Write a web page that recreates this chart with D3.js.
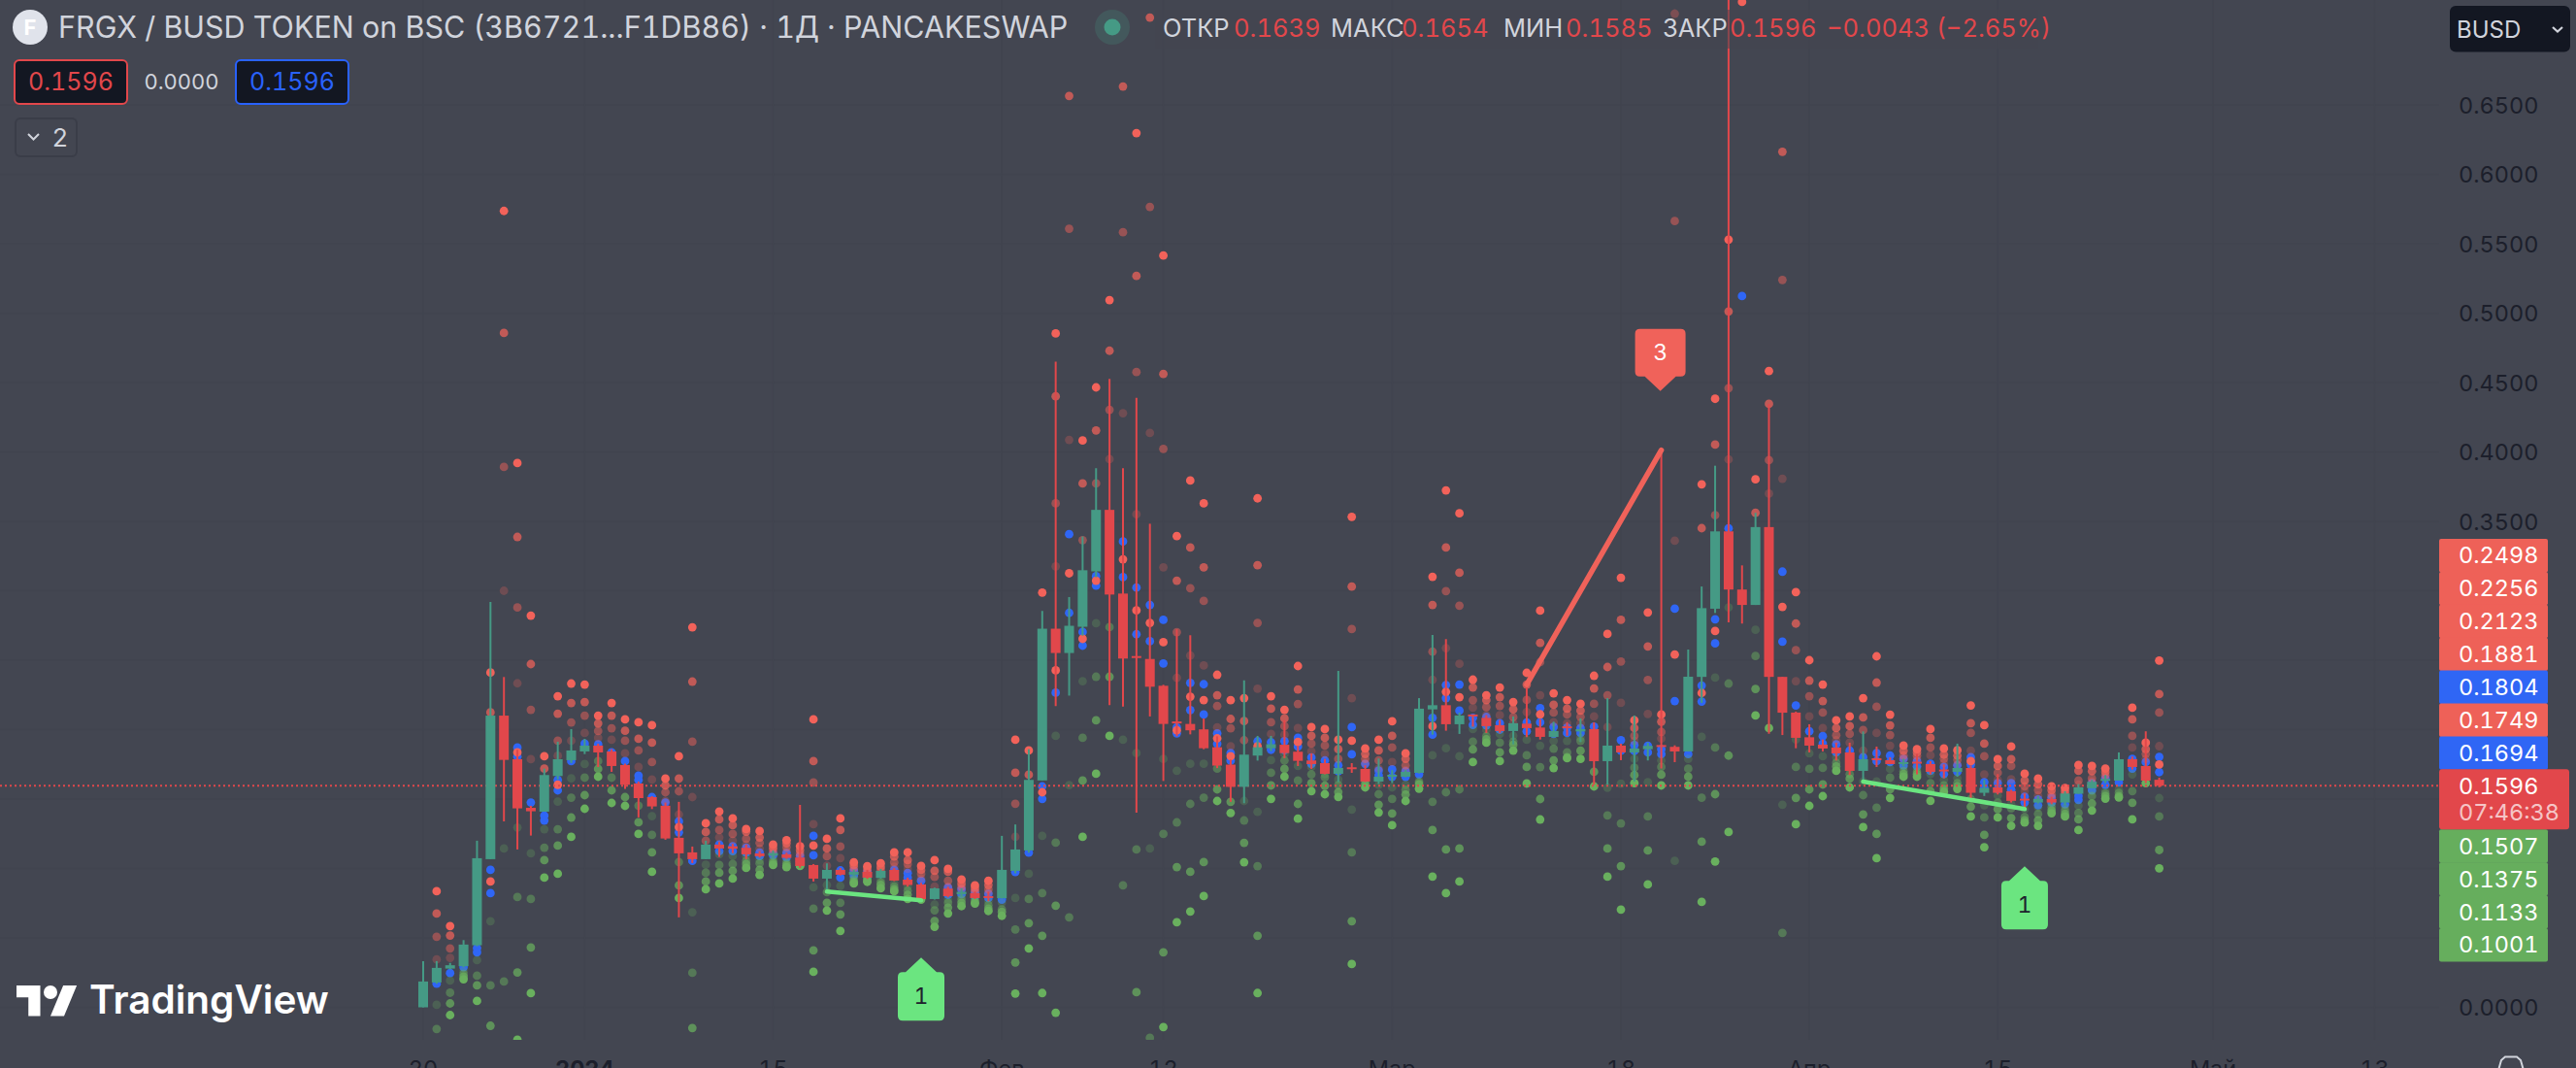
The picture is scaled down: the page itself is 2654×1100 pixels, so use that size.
<!DOCTYPE html>
<html><head><meta charset="utf-8">
<script src="https://d3js.org/d3.v7.min.js"></script>
<style>html,body{margin:0;padding:0;background:#434651;overflow:hidden}svg{display:block}text{font-family:Inter,"Noto Sans",sans-serif;font-variant-numeric:tabular-nums}</style>
</head><body><svg id="c" width="2654" height="1100"></svg>
<script>
// [open, high, low, close] per daily bar
const ohlc=[[.0000,.0333,.0000,.0186],[.0179,.0333,.0170,.0284],[.0279,.0320,.0272,.0303],[.0296,.0484,.0290,.0452],[.0447,.1200,.0440,.1074],[.1067,.2919,.1067,.2101],[.2101,.2379,.1339,.1782],[.1787,.1855,.1137,.1433],[.1437,.1451,.1237,.1412],[.1409,.1719,.1409,.1673],
[.1666,.1913,.1642,.1787],[.1780,.2004,.1760,.1850],[.1843,.1934,.1824,.1885],[.1885,.1899,.1731,.1836],[.1843,.1859,.1696,.1738],[.1745,.1755,.1573,.1603],[.1612,.1626,.1368,.1507],[.1514,.1521,.1428,.1447],[.1452,.1475,.1207,.1216],[.1221,.1480,.0648,.1109],
[.1116,.1158,.1039,.1067],[.1067,.1200,.1067,.1172],[.1172,.1191,.1083,.1144],[.1160,.1177,.1111,.1142],[.1149,.1172,.1067,.1102],[.1109,.1125,.1079,.1088],[.1093,.1130,.1074,.1111],[.1102,.1114,.1069,.1076],[.1079,.1458,.1004,.1018],[.1025,.1032,.0906,.0927],
[.0927,.1037,.0834,.0990],[.0990,.1004,.0950,.0955],[.0955,.0990,.0944,.0976],[.0976,.0990,.0925,.0934],[.0932,.0997,.0927,.0983],[.0990,.1004,.0909,.0913],[.0920,.0934,.0869,.0881],[.0885,.0897,.0771,.0780],[.0780,.0862,.0776,.0857],[.0855,.0869,.0792,.0801],
[.0815,.0857,.0799,.0832],[.0822,.0834,.0780,.0787],[.0801,.0834,.0764,.0787],[.0785,.1235,.0785,.0990],[.0983,.1317,.0965,.1137],[.1130,.1859,.1114,.1638],[.1634,.2855,.1634,.2727],[.2727,.4651,.2169,.2552],[.2552,.2955,.2245,.2748],[.2741,.3391,.2677,.3148],
[.3140,.3883,.3098,.3583],[.3583,.4526,.2177,.2973],[.2980,.3883,.2166,.2512],[.2530,.4390,.1402,.2516],[.2509,.3483,.2095,.2309],[.2316,.2323,.1630,.2041],[.2059,.2723,.1952,.2045],[.2041,.2680,.1966,.1995],[.2002,.2080,.1859,.1866],[.1873,.1952,.1723,.1741],
[.1748,.1784,.1480,.1588],[.1588,.2355,.1470,.1820],[.1813,.1955,.1777,.1873],[.1866,.1955,.1845,.1895],[.1891,.2070,.1795,.1831],[.1841,.1883,.1738,.1775],[.1778,.1829,.1717,.1752],[.1759,.1789,.1678,.1682],[.1682,.2423,.1622,.1724],[.1729,.1759,.1689,.1719],
[.1717,.1743,.1622,.1626],[.1626,.1792,.1608,.1661],[.1661,.1708,.1615,.1675],[.1661,.1708,.1657,.1696],[.1689,.2227,.1685,.2151],[.2146,.2682,.1964,.2176],[.2176,.2652,.1992,.2039],[.2039,.2123,.1969,.2102],[.2109,.2109,.2022,.2099],[.2085,.2104,.1976,.2025],
[.2032,.2069,.1976,.1990],[.1990,.2095,.1894,.2046],[.2043,.2325,.1946,.2011],[.2015,.2074,.1929,.1948],[.1948,.2057,.1946,.1990],[.2024,.2054,.1956,.2012],[.1987,.2081,.1910,.2004],[.2004,.2053,.1603,.1773],[.1773,.2227,.1603,.1885],[.1885,.1899,.1780,.1836],
[.1836,.2102,.1626,.1864],[.1859,.1906,.1778,.1883],[.1889,.4013,.1720,.1880],[.1876,.1887,.1766,.1843],[.1843,.2577,.1843,.2381],[.2380,.3031,.2193,.2875],[.2871,.3901,.2840,.3428],[.3428,.7700,.2773,.3009],[.3009,.3183,.2764,.2898],[.2898,.3562,.2898,.3459],
[.3459,.4347,.1970,.2380],[.2380,.2380,.1961,.2122],[.2123,.2130,.1866,.1941],[.1945,.2039,.1836,.1885],[.1892,.1929,.1843,.1864],[.1871,.1906,.1778,.1829],[.1836,.1906,.1673,.1703],[.1703,.1987,.1626,.1787],[.1794,.1878,.1731,.1785],[.1780,.1801,.1752,.1752],
[.1752,.1790,.1738,.1766],[.1769,.1825,.1678,.1755],[.1752,.1773,.1678,.1696],[.1713,.1750,.1650,.1701],[.1696,.1899,.1661,.1724],[.1724,.1743,.1503,.1545],[.1545,.1638,.1522,.1580],[.1584,.1680,.1533,.1545],[.1557,.1568,.1475,.1487],[.1503,.1540,.1428,.1491],
[.1475,.1522,.1468,.1501],[.1501,.1517,.1463,.1475],[.1475,.1557,.1452,.1540],[.1538,.1608,.1538,.1584],[.1578,.1638,.1578,.1624],[.1631,.1673,.1615,.1645],[.1633,.1836,.1633,.1787],[.1787,.1806,.1713,.1731],[.1738,.1988,.1615,.1633],[.1639,.1654,.1585,.1596]];
const _=null;
// resistance levels r4,r3,r2,r1 and the central pivot, per bar
const redLevels=[[_,_,_,_,_],[.0836,.0675,.0508,.0345,_],[.0585,.0517,.0424,.0356,_],[_,_,_,_,_],[_,_,_,_,_],[.2411,.2125,_,_,.0906],[.5736,.4857,.3892,.3000,_],[.3920,.3388,.2880,.2334,.1836],[.2821,.2472,.2143,.1787,_],[.1808,.1719,_,_,_],
[.2241,.2115,.1920,.1812,.1603],[.2332,.2192,.2052,.1920,_],[.2325,.2199,.2101,.1976,_],[.2101,.2045,.1990,.1941,_],[.2192,.2101,.2010,.1927,_],[.2074,.1992,.1920,.1829,_],[.2053,.1934,.1850,.1731,_],[.2032,.1906,.1766,.1640,_],[.1647,.1598,.1549,.1486,_],[.1808,.1647,.1556,.1389,.1298],
[.2737,.2346,.1913,.1514,_],[.1326,.1263,.1200,_,_],[.1410,.1354,.1277,.1223,_],[.1361,.1312,.1249,.1200,_],[.1284,.1265,.1214,.1172,_],[.1270,.1223,.1184,.1142,_],[.1172,.1149,.1130,.1111,_],[.1204,.1181,.1153,.1125,_],[.1160,.1132,.1109,.1090,_],[.2074,.1773,.1619,.1319,.1165],
[.1214,.1144,.1088,.1020,_],[.1361,.1277,.1158,.1074,_],[.1044,.1025,.1006,.0990,_],[.1016,.0997,.0974,.0962,_],[.1037,.1013,.0997,.0985,_],[.1116,.1086,.1044,.1013,_],[.1116,.1060,.1032,.0997,_],[.1018,.0990,.0962,.0927,_],[.1060,.0983,.0939,.0869,_],[.0997,.0976,.0911,.0869,_],
[.0920,.0892,.0869,.0850,_],[.0878,.0857,.0841,.0827,_],[.0911,.0881,.0850,.0827,_],[_,_,_,_,_],[.1927,.1689,.1466,.1228,_],[.1850,.1675,_,_,_],[.2987,_,_,_,.1549],[.4854,.4401,.3630,.3176,.2427],[_,.6564,.5608,.4087,.3126],[.4083,.3773,.3365,_,.2654],
[.4465,.4155,.3773,_,.3073],[.5094,.4729,.4304,.3948,_],[_,.6632,.5583,.4279,.3227],[.6297,.5268,.4576,.3551,.2859],[_,.7129,.5765,.4137,.2769],[.5415,.4562,.4022,.3169,.2630],[.3394,.3073,.2702,.2373,.1995],[.3794,.3312,.3019,.2534,.2237],[.3630,.3169,.2927,.2462,.2213],[.2395,.2248,.2170,.2016,.1937],
[.2212,.2077,.2009,.1880,.1809],[.2227,.2062,.1923,_,_],[.3666,.3184,.2769,.2295,.1880],[.2241,.2151,.2053,.1969,_],[.2143,.2081,.2025,.1964,_],[.2458,.2290,.2185,.2011,.1911],[.2018,.1955,.1899,.1843,_],[.2004,.1941,.1885,.1824,_],[.1927,.1859,.1789,_,_],[.3533,.3030,.2724,.2226,.1920],
[.1864,.1825,.1790,.1760,_],[.1927,.1850,.1778,.1720,_],[.2060,.1955,.1871,.1766,_],[.1829,.1790,.1743,.1708,_],[_,_,_,_,_],[.3101,.2898,.2562,.2359,.2025],[.3723,.3312,.2998,.2587,.2272],[.3558,.3130,.2893,.2474,.2234],[.2360,.2304,.2213,.2158,_],[.2248,.2213,.2162,.2104,_],
[.2304,.2234,.2171,.2104,_],[.2199,.2146,.2090,.2046,_],[.2409,.2325,.2214,.2127,_],[.2857,.2625,.2486,.2248,.2110],[.2262,.2179,.2123,.2053,_],[.2213,.2151,.2109,.2046,_],[.2186,.2137,.2092,.2046,_],[.2388,.2297,.2186,.2095,_],[.2689,.2451,.2248,.2018,_],[.3094,.2791,.2491,.2193,_],
[.2067,.2011,.1955,.1919,_],[.2844,.2599,.2358,.2113,_],[.2109,.2057,.1983,.1936,_],[_,.7157,.5663,.3361,.2541],[_,_,_,_,_],[.3767,.3451,_,_,.2264],[.4383,.4053,.3544,_,.2710],[.5529,.5012,.4459,.3946,_],[.7242,_,_,_,_],[.3803,.3562,_,_,_],
[.4583,.4347,.3941,.3700,_],[_,.6162,.5239,.3807,.2884],[.2991,.2764,.2572,.2349,_],[.2500,.2353,.2241,.2095,_],[.2325,.2206,.2123,.2011,_],[.2067,.2011,.1960,.1923,_],[.2095,.2025,.1969,.1906,_],[.2227,.2088,.1997,.1848,_],[.2528,.2339,.2165,.1976,_],[.2108,.2031,.1961,.1884,_],
[.1885,.1848,.1813,.1789,_],[.1859,.1836,.1813,.1790,_],[.2004,.1941,.1871,.1815,_],[.1864,.1820,.1790,.1759,_],[.1852,.1813,.1783,.1750,_],[.2174,.2046,.1976,.1848,.1773],[.2032,.1899,.1808,.1678,_],[.1787,.1738,.1689,.1638,_],[.1878,.1787,.1738,.1643,_],[.1682,.1633,.1592,.1557,_],
[.1647,.1606,.1564,.1526,_],[.1592,.1564,.1533,.1515,_],[.1580,.1557,.1540,.1522,_],[.1745,.1703,.1633,.1603,_],[.1738,.1701,.1650,.1626,_],[.1720,.1696,.1673,.1661,_],[_,_,_,_,_],[.2158,.2074,.1955,.1871,_],[.1906,.1859,.1825,.1790,_],[.2498,.2256,.2123,.1881,.1749]];
// the two blue levels around the pivot, per bar
const blueLevels=[[_,_],[_,.0170],[_,.0247],[_,.0290],[.0426,.0396],[.0990,.0822],[_,_],[.1871,.1806],[.1475,_],[.1381,.1346],
[.1638,.1563],[_,.1773],[.1899,_],[.1894,_],[.1836,_],[.1773,_],[.1668,.1638],[.1514,_],[.1475,_],[.1340,.1260],
[_,.1055],[_,_],[.1172,.1125],[.1160,.1125],[.1149,.1114],[.1114,.1090],[.1105,.1095],[.1111,.1079],[.1090,.1050],[.1235,.1095],
[_,_],[.0986,.0934],[.0985,.0950],[.0976,.0940],[_,_],[.0990,_],[.0967,.0934],[.0911,_],[_,_],[.0862,.0810],
[.0850,.0815],[.0827,.0799],[.0818,.0787],[_,.0776],[_,.0974],[_,.1114],[.1591,.1501],[.2590,.2266],[.3408,.2841],[.2703,.2605],
[.3105,.3037],[_,_],[.3355,.3098],[.3023,.2687],[.2898,.2637],[.2791,.2477],[.2016,.1973],[.2337,.2141],[.2327,.2109],[.1973,.1898],
[.1831,.1777],[_,_],[.1916,.1850],[.1909,.1855],[.1917,.1852],[.1941,.1878],[.1800,.1752],[.1778,.1720],[.1743,.1700],[.2018,.1822],
[.1753,.1650],[.1705,.1670],[.1714,.1660],[.1700,.1660],[_,.1678],[.2085,.1964],[.2321,.2227],[.2325,.2137],[.2085,.2034],[.2091,.2030],
[.2046,.2000],[_,_],[.2052,.1988],[.2155,.2053],[.2020,.1970],[.2015,.1976],[.2011,.1976],[.2022,_],[_,_],[.1924,.1848],
[.1889,.1847],[.1883,.1836],[.1859,.1824],[.2871,.2206],[_,.1824],[.2318,.2202],[.2795,.2621],[.3450,_],[.5123,_],[_,_],
[_,_],[.3138,.2634],[.2174,_],[.1988,_],[.1953,.1900],[.1894,.1836],[.1848,_],[.1801,_],[.1831,.1773],[.1813,.1766],
[.1789,.1742],[.1773,.1736],[.1755,.1703],[.1731,.1680],[.1743,.1696],[.1801,.1748],[.1622,.1580],[.1615,.1573],[.1615,.1568],[.1517,.1475],
[.1498,.1456],[.1510,.1475],[.1510,.1463],[.1522,.1494],[.1615,.1564],[.1650,.1603],[_,.1620],[.1790,.1720],[.1766,_],[.1804,.1694]];
// support levels s1,s2,s3,s4, per bar
const greenLevels=[[_,_,_,_],[.0018,-.0156,_,_],[.0193,.0105,.0028,-.0056],[.0263,.0240,.0221,.0202],[.0340,.0228,.0158,.0046],[.0620,.0158,-.0133,_],[.1144,.0186,_,_],[.1295,.0794,.0251,-.0233],[.1109,.0780,.0431,.0102],[.1283,.1150,.1060,.0934],
[.1482,.1283,.1165,.0962],[.1649,.1510,.1367,.1228],[.1752,.1654,.1528,.1430],[_,.1773,.1717,.1661],[_,.1654,.1563,.1472],[_,_,.1514,.1451],[_,.1452,.1333,.1249],[.1377,.1242,.1116,.0976],[_,_,_,_],[_,.1046,.0878,.0787],
[.0685,.0249,-.0149,_],[.1027,.0969,.0906,.0850],[.1102,.1025,.0969,.0892],[.1090,.1032,.0983,.0927],[.1090,.1055,.1032,.1004],[.1060,.1037,.0990,.0953],[.1067,.1051,.1037,.1025],[.1055,.1037,.1023,.1009],[.1030,.1025,.1021,.1018],[.0864,.0711,.0410,.0256],
[.0881,.0829,.0753,.0697],[.0874,.0753,.0669,.0550],[.0939,.0920,.0904,.0892],[.0934,.0925,.0916,.0904],[.0916,.0897,.0881,.0857],[.0892,.0869,.0850,.0836],[.0869,.0841,.0811,.0780],[_,_,_,.0776],[.0741,.0699,.0622,.0580],[.0776,.0753,.0718,.0676],
[.0799,.0776,.0753,.0729],[.0787,.0771,.0757,.0748],[.0764,.0736,.0711,.0694],[.0753,.0706,.0687,.0659],[.0787,.0561,.0323,.0099],[.0962,.0780,.0606,.0424],[.1235,.0823,.0515,.0103],[.1955,.1186,.0732,-.0039],[.1601,.0648,_,_],[.2349,.1941,.1633,.1228],
[.2766,.2381,.2067,.1682],[_,.2738,.2381,.1955],[.1927,.0878,_,_],[.1831,.1137,.0109,_],[.1144,-.0219,_,_],[.1789,.1249,.0396,-.0142],[.1704,.1332,.1010,.0613],[.1754,.1465,.0976,.0690],[.1754,.1510,.1046,.0801],[_,.1719,.1570,.1486],
[_,_,.1480,.1400],[.1486,.1346,.1185,.1045],[.1408,.1017,.0515,.0103],[.1780,.1689,.1598,.1501],[.1824,.1778,.1717,.1661],[.1738,.1633,.1465,.1359],[.1731,.1678,.1615,.1557],[.1680,.1657,.1596,.1535],[.1640,.1600,.1550,.1515],[.1424,.1116,.0620,.0312],
[.1650,.1630,.1605,.1584],[.1603,.1535,.1459,.1403],[.1584,.1501,.1396,.1312],[.1603,.1568,.1533,.1486],[.1630,.1620,.1605,.1575],[.1815,.1480,.1277,.0942],[.1866,.1549,.1137,.0822],[.1808,.1570,.1144,.0906],[.2004,.1913,.1857,.1766],[.1999,.1952,.1930,.1906],
[.1969,.1906,.1836,.1773],[.1956,.1914,.1891,.1849],[.1927,.1815,.1731,.1612],[.1884,.1730,.1500,.1353],[.1919,.1863,.1779,.1723],[.1919,.1836,.1801,.1794],[.1941,.1919,.1848,.1789],[_,_,.1696,.1591],[.1582,.1382,.1144,.0941],[.1611,.1325,.1017,.0704],
[.1789,.1726,.1673,.1615],[.1622,.1375,.1130,.0885],[.1778,.1731,.1675,.1598],[.1055,_,_,_],[.1789,.1719,.1661,.1598],[.1948,.1509,.1193,.0759],[.2375,.1871,.1535,.1050],[.2880,.2332,.1813,.1263],[_,_,_,_],[.2719,.2530,.2293,.2102],
[_,_,_,.2011],[.1459,.0536,_,_],[.1929,.1731,.1508,.1319],[.1829,.1717,.1570,.1451],[.1808,.1724,.1605,.1521],[.1800,.1761,.1735,.1703],[_,.1680,.1647,.1584],[.1626,.1528,.1389,.1298],[.1626,.1438,.1249,.1074],[.1717,.1654,.1570,.1508],
[.1731,.1701,.1680,.1661],[.1720,.1696,.1680,.1661],[.1680,.1615,.1557,.1487],[.1638,.1598,.1573,.1552],[.1650,.1615,.1592,.1573],[_,.1500,.1445,.1375],[.1456,.1368,.1242,.1153],[.1526,.1475,.1428,.1368],[.1463,.1433,.1363,.1307],[.1428,.1370,.1347,.1331],
[.1440,.1393,.1347,.1307],[.1463,.1440,.1417,.1398],[.1440,.1417,.1393,.1375],[.1452,.1400,.1354,.1277],[.1557,.1522,.1468,.1417],[.1557,.1540,.1522,.1503],[.1568,.1545,.1522,.1512],[.1678,.1557,.1473,.1354],[_,_,_,.1615],[.1507,.1375,.1133,.1001]];
const priceTicks=[0,.05,.1,.15,.2,.25,.3,.35,.4,.45,.5,.55,.6,.65];
const priceLabelTicks=[0,.35,.4,.45,.5,.55,.6,.65];
const dayTicks=[0,12,26,43,55,72,89,103,117,133,145];
const dayLabels=["20","2024","15","Фев","12","Мар","18","Апр","15","Май","13"];
const boldLabels=["2024"];
const lastPrice=.1596, countdown="07:46:38";
const upperLabels=[.2498,.2256,.2123,.1881,.1804,.1749,.1694];
const upperKinds=["r","r","r","r","b","r","b"];
const lowerLabels=[.1507,.1375,.1133,.1001];
const redTrend=[[82,.2325],[92,.4013]];
const greenTrends=[[[30,.0834],[37,.0771]],[[107,.1626],[119,.1428]]];
const titleText="FRGX / BUSD TOKEN on BSC (3B6721...F1DB86) · 1Д · PANCAKESWAP";
const ohlcHeader=[["ОТКР","0.1639"],["МАКС","0.1654"],["МИН","0.1585"],["ЗАКР","0.1596"]];

const C={bg:"#434651",grid:"#41444f",up:"#459a85",down:"#e2474b",rdot:"#f2625a",bdot:"#2f66f5",gdot:"#69b05e",axis:"#1c1f2b",txt:"#d1d4dc",ann:"#f0625a",gann:"#6be580",dark:"#131722"};
const W=2654,H=1100,paneR=2513,paneB=1071;
const x=d3.scaleLinear().domain([0,129]).range([436,2224.6]);
const y=d3.scaleLinear().domain([0,.65]).range([1037.5,108]);
const svg=d3.select("#c");
svg.append("rect").attr("width",W).attr("height",H).attr("fill",C.bg);
svg.append("defs").append("clipPath").attr("id","pane").append("rect").attr("width",paneR).attr("height",paneB);
const grid=svg.append("g");
grid.selectAll("line.h").data(priceTicks).join("line").attr("class","h").attr("x1",0).attr("x2",paneR).attr("y1",d=>y(d)).attr("y2",d=>y(d)).attr("stroke",C.grid).attr("stroke-width",1.5);
grid.selectAll("line.v").data(dayTicks).join("line").attr("class","v").attr("y1",0).attr("y2",paneB).attr("x1",d=>x(d)).attr("x2",d=>x(d)).attr("stroke",C.grid).attr("stroke-width",1.5);

const pane=svg.append("g").attr("clip-path","url(#pane)");
// dots
const R=4.4;
function dots(rows,cols,colour,alphas){
  cols.forEach((c,k)=>{
    pane.append("g").selectAll("circle").data(rows.map((r,i)=>[i,r[c]]).filter(d=>d[1]!==null)).join("circle")
      .attr("cx",d=>x(d[0])).attr("cy",d=>y(d[1])).attr("r",R).attr("fill",colour).attr("fill-opacity",alphas[k]);
  });
}
dots(blueLevels,[0,1],C.bdot,[1,1]);
dots(redLevels,[4],C.rdot,[1]);
dots(redLevels,[3,2,1,0],C.rdot,[.25,.48,.72,1]);
dots(greenLevels,[0,1,2,3],C.gdot,[.25,.48,.72,1]);

// last price line
pane.append("line").attr("x1",0).attr("x2",paneR).attr("y1",y(lastPrice)).attr("y2",y(lastPrice)).attr("stroke",C.down).attr("stroke-width",2).attr("stroke-dasharray","2 3");

// candles
const bw=10;
const g=pane.append("g");
g.selectAll("line").data(ohlc).join("line").attr("x1",(d,i)=>x(i)).attr("x2",(d,i)=>x(i)).attr("y1",d=>y(d[1])).attr("y2",d=>y(d[2])).attr("stroke-width",2).attr("stroke",d=>d[3]>=d[0]?C.up:C.down);
g.selectAll("rect").data(ohlc).join("rect").attr("x",(d,i)=>x(i)-bw/2).attr("width",bw)
 .attr("y",d=>y(Math.max(d[0],d[3]))).attr("height",d=>Math.max(2,Math.abs(y(d[0])-y(d[3])))).attr("fill",d=>d[3]>=d[0]?C.up:C.down);

// trend lines
const ln=d3.line().x(d=>x(d[0])).y(d=>y(d[1]));
pane.append("path").attr("d",ln(redTrend)).attr("stroke",C.ann).attr("stroke-width",5.5).attr("fill","none").attr("stroke-linecap","round");
greenTrends.forEach(t=>pane.append("path").attr("d",ln(t)).attr("stroke",C.gann).attr("stroke-width",4.5).attr("fill","none").attr("stroke-linecap","round"));

// markers
function marker(tx,ty,dir,w,h,fill,label,col){
  const a=w/2,n=15*dir,b=16,r=5;
  const t=ty+n, e=t+dir*h;
  const p=d3.path();
  p.moveTo(tx,ty);p.lineTo(tx+b,t);p.lineTo(tx+a-r,t);p.quadraticCurveTo(tx+a,t,tx+a,t+dir*r);p.lineTo(tx+a,e-dir*r);p.quadraticCurveTo(tx+a,e,tx+a-r,e);
  p.lineTo(tx-a+r,e);p.quadraticCurveTo(tx-a,e,tx-a,e-dir*r);p.lineTo(tx-a,t+dir*r);p.quadraticCurveTo(tx-a,t,tx-a+r,t);p.lineTo(tx-b,t);p.closePath();
  svg.append("path").attr("d",p.toString()).attr("fill",fill);
  svg.append("text").attr("x",tx).attr("y",(t+e)/2+8).attr("text-anchor","middle").attr("font-size",23).attr("fill",col).text(label);
}
marker(x(redTrend[1][0])-1,y(redTrend[1][1])-61,-1,52,49,C.ann,"3","#fff");
greenTrends.forEach(t=>marker(x(t[1][0]),y(t[1][1])+59,1,48,50,C.gann,"1","#1e222d"));

// price axis
svg.append("g").selectAll("text").data(priceLabelTicks).join("text").attr("x",2533).attr("y",d=>y(d)+8.5).attr("font-size",23.5).attr("fill",C.axis).text(d=>d.toFixed(4));
// time axis
svg.append("g").selectAll("text").data(dayTicks).join("text").attr("x",d=>x(d)).attr("y",1109).attr("text-anchor","middle").attr("font-size",23.5).attr("fill",C.axis)
 .attr("font-weight",(d,i)=>boldLabels.includes(dayLabels[i])?700:400).text((d,i)=>dayLabels[i]);

// price labels
const lh=33.9, cy=y(lastPrice), lx=2513, lw=112;
const kindColour={r:"#ee6158",b:C.bdot,g:"#66ae5d"};
function plabel(v,c,col){
  svg.append("rect").attr("x",lx).attr("y",c-lh/2).attr("width",lw).attr("height",lh+.5).attr("rx",2).attr("fill",col);
  svg.append("text").attr("x",2533).attr("y",c+8.5).attr("font-size",23.5).attr("fill","#fff").text(v.toFixed(4));
}
upperLabels.forEach((v,i)=>plabel(v,cy-lh*(upperLabels.length-i),kindColour[upperKinds[i]]));
lowerLabels.forEach((v,i)=>plabel(v,cy+62+lh*i,kindColour.g));
svg.append("rect").attr("x",lx).attr("y",cy-lh/2).attr("width",134).attr("height",62).attr("rx",3).attr("fill",C.down);
svg.append("text").attr("x",2533).attr("y",cy+8.5).attr("font-size",23.5).attr("fill","#fff").text(lastPrice.toFixed(4));
svg.append("text").attr("x",2533).attr("y",cy+36).attr("font-size",23.5).attr("fill","#fff").attr("fill-opacity",.7).text(countdown);

// header
svg.append("rect").attr("x",1190).attr("y",10).attr("width",910).attr("height",40).attr("fill",C.bg).attr("fill-opacity",.55);
svg.append("circle").attr("cx",31).attr("cy",28).attr("r",18).attr("fill","#e0e3eb");
svg.append("text").attr("x",31).attr("y",36).attr("text-anchor","middle").attr("font-size",22).attr("font-weight",700).attr("fill","#fff").text("F");
svg.append("text").attr("x",60).attr("y",39).attr("font-size",30.5).attr("fill",C.txt).text(titleText);
svg.append("circle").attr("cx",1146).attr("cy",28).attr("r",18).attr("fill","#459a85").attr("fill-opacity",.22);
svg.append("circle").attr("cx",1146).attr("cy",28).attr("r",8.5).attr("fill","#459a85");
const hx=[[1198,1271],[1371,1444],[1549,1613],[1713,1782]];
ohlcHeader.forEach((d,i)=>{
  svg.append("text").attr("x",hx[i][0]).attr("y",38).attr("font-size",25.5).attr("fill",C.txt).text(d[0]);
  svg.append("text").attr("x",hx[i][1]).attr("y",38).attr("font-size",25.5).attr("fill",C.down).text(d[1]);
});
svg.append("text").attr("x",1882).attr("y",38).attr("font-size",25.5).attr("fill",C.down).text("−0.0043 (−2.65%)");
// value boxes
[[14,C.down,"0.1596"],[242,"#2962ff","0.1596"]].forEach(b=>{
  svg.append("rect").attr("x",b[0]+1).attr("y",62).attr("width",116).attr("height",45).attr("rx",5).attr("fill",C.dark).attr("stroke",b[1]).attr("stroke-width",2);
  svg.append("text").attr("x",b[0]+59).attr("y",93).attr("text-anchor","middle").attr("font-size",25).attr("fill",b[1]).text(b[2]);
});
svg.append("text").attr("x",187).attr("y",92).attr("text-anchor","middle").attr("font-size",22).attr("fill",C.txt).text("0.0000");
svg.append("rect").attr("x",16).attr("y",122).attr("width",63).attr("height",39).attr("rx",5).attr("fill","none").attr("stroke","#3a3d48").attr("stroke-width",2);
svg.append("path").attr("d","M29 138l5.5 5.5 5.5-5.5").attr("fill","none").attr("stroke",C.txt).attr("stroke-width",2);
svg.append("text").attr("x",62).attr("y",151).attr("text-anchor","middle").attr("font-size",26).attr("fill",C.txt).text("2");
// currency button
svg.append("rect").attr("x",2524).attr("y",6).attr("width",124).attr("height",47.5).attr("rx",6).attr("fill",C.dark);
svg.append("text").attr("x",2531).attr("y",39).attr("font-size",24).attr("fill",C.txt).text("BUSD");
svg.append("path").attr("d","M2630 28l5 4.5 5-4.5").attr("fill","none").attr("stroke",C.txt).attr("stroke-width",2.2);
// logo
const logo=svg.append("g").attr("transform","translate(17,1008) scale(1.75)");
logo.append("path").attr("d","M14 22H7V11H0V4h14v18zM28 22h-8l7.5-18h8L28 22z").attr("fill","#fff");
logo.append("circle").attr("cx",20).attr("cy",8).attr("r",4).attr("fill","#fff");
svg.append("text").attr("x",92).attr("y",1044).attr("font-size",40.5).attr("font-weight",600).attr("fill","#fff").text("TradingView");
// settings hexagon
svg.append("path").attr("d","M2577 1092l4-3.5h12l4 3.5 4 14h-28z").attr("fill","none").attr("stroke",C.txt).attr("stroke-width",2);
</script></body></html>
